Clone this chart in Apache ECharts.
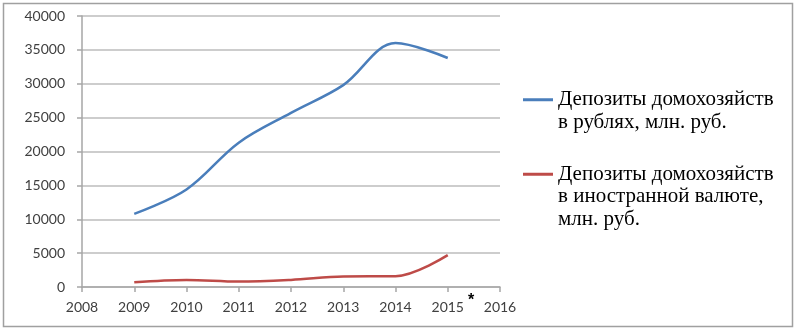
<!DOCTYPE html>
<html>
<head>
<meta charset="utf-8">
<script src="https://cdn.jsdelivr.net/npm/echarts@6/dist/echarts.min.js"></script>
<style>
  html, body { margin: 0; padding: 0; background: #fff; }
  #main { width: 796px; height: 330px; }
</style>
</head>
<body>
<div id="main"></div>
<script>
const years = [2009, 2010, 2011, 2012, 2013, 2014, 2015];
const rubDeposits = [10800, 14400, 21300, 25700, 29800, 36000, 33800];
const fxDeposits = [700, 1050, 800, 1050, 1550, 1600, 4700];
const rubName = 'Депозиты домохозяйств\nв рублях, млн. руб.';
const fxName = 'Депозиты домохозяйств\nв иностранной валюте,\nмлн. руб.';

const chart = echarts.init(document.getElementById('main'));

const axisFont = { color: '#404040', fontSize: 14, fontFamily: 'Lato' };
const legendText = {
  color: '#000',
  fontSize: 21,
  lineHeight: 22.5,
  fontFamily: 'Liberation Serif'
};

chart.setOption({
  animation: false,
  grid: { left: 82, right: 296, top: 16, bottom: 43 },
  xAxis: {
    type: 'value',
    min: 2008,
    max: 2016,
    interval: 1,
    axisLine: { lineStyle: { color: '#a6a6a6', width: 1.5 } },
    axisTick: { show: true, length: 5, lineStyle: { color: '#a6a6a6', width: 1.5 } },
    axisLabel: { ...axisFont, margin: 13, formatter: v => String(v) },
    splitLine: { show: false }
  },
  yAxis: {
    type: 'value',
    min: 0,
    max: 40000,
    interval: 5000,
    axisLine: { show: true, lineStyle: { color: '#a6a6a6', width: 1.5 } },
    axisTick: { show: true, length: 5, lineStyle: { color: '#a6a6a6', width: 1.5 } },
    axisLabel: { ...axisFont, margin: 17, formatter: v => String(v) },
    splitLine: { lineStyle: { color: '#bdbdbd', width: 1.5 } }
  },
  legend: [
    {
      orient: 'vertical',
      left: 518,
      top: 61,
      itemWidth: 30,
      itemHeight: 3,
      icon: 'rect',
      data: [rubName],
      formatter: n => '\n' + n,
      textStyle: legendText
    },
    {
      orient: 'vertical',
      left: 518,
      top: 113,
      itemWidth: 30,
      itemHeight: 3,
      icon: 'rect',
      data: [fxName],
      formatter: n => '\n\n' + n,
      textStyle: legendText
    }
  ],
  graphic: [
    {
      type: 'rect',
      left: 1,
      top: 1,
      shape: { width: 789, height: 323 },
      style: { fill: 'none', stroke: '#a0a0a0', lineWidth: 1.5 },
      silent: true
    },
    {
      type: 'text',
      left: 468,
      top: 293,
      style: { text: '*', fontSize: 16, fontWeight: 'bold', fill: '#000', fontFamily: 'Liberation Sans' }
    }
  ],
  series: [
    {
      name: rubName,
      type: 'line',
      smooth: 0.35,
      symbol: 'none',
      color: '#4a7ebb',
      lineStyle: { width: 2.5 },
      data: years.map((y, i) => [y, rubDeposits[i]])
    },
    {
      name: fxName,
      type: 'line',
      smooth: 0.35,
      symbol: 'none',
      color: '#be4b48',
      lineStyle: { width: 2.5 },
      data: years.map((y, i) => [y, fxDeposits[i]])
    }
  ]
});
</script>
</body>
</html>
